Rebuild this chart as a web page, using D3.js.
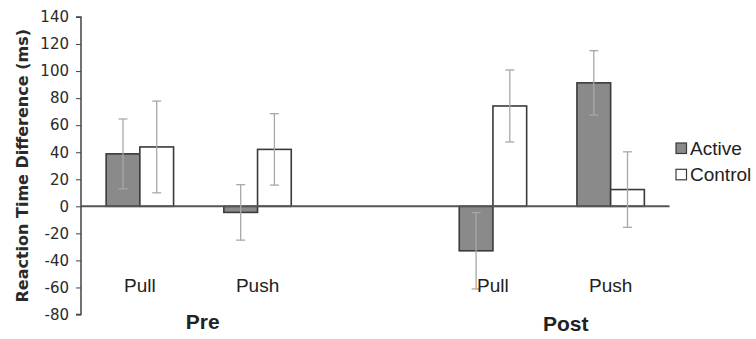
<!DOCTYPE html>
<html>
<head>
<meta charset="utf-8">
<script src="https://cdn.jsdelivr.net/npm/d3@7"></script>
<style>
  html, body { margin: 0; padding: 0; background: #fff; }
  svg { display: block; }
</style>
</head>
<body>
<svg id="chart" width="756" height="339"></svg>
<script>
// ---- data ----
const phases = ["Pre", "Pre", "Post", "Post"];
const conditions = ["Pull", "Push", "Pull", "Push"];
const seriesNames = ["Active", "Control"];
const activeValues = [38.8, -4.5, -32.9, 91.3];
const activeErrors = [25.8, 20.5, 28.2, 23.8];
const controlValues = [43.9, 42.1, 74.2, 12.4];
const controlErrors = [33.9, 26.4, 26.6, 27.9];
const yTicks = [140, 120, 100, 80, 60, 40, 20, 0, -20, -40, -60, -80];
const yTitle = "Reaction Time Difference (ms)";
const groupLabels = ["Pre", "Post"];

// ---- layout ----
const svg = d3.select("#chart");
const plotLeft = 81, plotRight = 669.5, plotTop = 17, plotBottom = 314.5;

const slotKeys = [phases[0] + "|" + conditions[0], phases[1] + "|" + conditions[1], "spacer",
                  phases[2] + "|" + conditions[2], phases[3] + "|" + conditions[3]];
const x = d3.scaleBand().domain(slotKeys).range([plotLeft, plotRight]).padding(0);
const x1 = d3.scaleBand().domain(seriesNames).range([0, x.bandwidth()]).paddingInner(0).paddingOuter(0.746);
const y = d3.scaleLinear().domain([-80, 140]).range([plotBottom, plotTop]);

const fills = { Active: "#8a8a8a", Control: "#ffffff" };

const rows = [];
for (let i = 0; i < conditions.length; i++) {
  const key = phases[i] + "|" + conditions[i];
  rows.push({ key, series: "Active", v: activeValues[i], e: activeErrors[i] });
  rows.push({ key, series: "Control", v: controlValues[i], e: controlErrors[i] });
}

// bars
svg.append("g").selectAll("rect").data(rows).join("rect")
  .attr("x", d => x(d.key) + x1(d.series))
  .attr("width", x1.bandwidth())
  .attr("y", d => y(Math.max(0, d.v)))
  .attr("height", d => Math.abs(y(d.v) - y(0)))
  .attr("fill", d => fills[d.series])
  .attr("stroke", "#3a3a3a")
  .attr("stroke-width", 1.6);

// zero line
svg.append("line")
  .attr("x1", plotLeft).attr("x2", plotRight)
  .attr("y1", y(0)).attr("y2", y(0))
  .attr("stroke", "#555").attr("stroke-width", 2);

// error bars
const eg = svg.append("g").attr("stroke", "#a8a8a8").attr("stroke-width", 1.3);
rows.forEach(d => {
  const cx = x(d.key) + x1(d.series) + x1.bandwidth() / 2;
  eg.append("line").attr("x1", cx).attr("x2", cx).attr("y1", y(d.v + d.e)).attr("y2", y(d.v - d.e));
  [d.v + d.e, d.v - d.e].forEach(t => {
    eg.append("line").attr("x1", cx - 4.5).attr("x2", cx + 4.5).attr("y1", y(t)).attr("y2", y(t));
  });
});

// y axis
const yAxis = d3.axisLeft(y).tickValues(yTicks).tickSize(5).tickPadding(7).tickFormat(d => String(d));
const ag = svg.append("g").attr("transform", `translate(${plotLeft},0)`).call(yAxis);
ag.select(".domain").attr("stroke", "#444").attr("stroke-width", 1.5).attr("d", `M-5,${y(140)}H0V${y(-80)}H-5`);
ag.selectAll(".tick line").attr("stroke", "#444").attr("stroke-width", 1);
ag.selectAll(".tick text").attr("fill", "#2a2a2a").style("font-family", "'DejaVu Sans', sans-serif").style("font-size", "15px");

// y title
svg.append("text")
  .attr("transform", `translate(28,${(y(140) + y(-80)) / 2}) rotate(-90)`)
  .attr("text-anchor", "middle")
  .style("font-family", "'DejaVu Sans', sans-serif")
  .style("font-weight", "bold").style("font-size", "16px").attr("fill", "#2a2a2a")
  .text(yTitle);

// category labels
svg.append("g").selectAll("text").data(conditions).join("text")
  .attr("x", (d, i) => x(phases[i] + "|" + d) + x.bandwidth() / 2)
  .attr("y", 291.5)
  .attr("text-anchor", "middle")
  .style("font-family", "'Liberation Sans', Arial, sans-serif")
  .style("font-size", "19px").attr("fill", "#222")
  .text(d => d);

// group labels
const groupOffsets = [4, 14];
svg.append("g").selectAll("text").data(groupLabels).join("text")
  .attr("x", (g, gi) => {
    const keys = conditions.map((c, i) => phases[i] === g ? x(phases[i] + "|" + c) + x.bandwidth() / 2 : null).filter(v => v !== null);
    return d3.mean(keys) + groupOffsets[gi];
  })
  .attr("y", (g, gi) => gi === 0 ? 328.5 : 331)
  .attr("text-anchor", "middle")
  .style("font-family", "'Liberation Sans', Arial, sans-serif")
  .style("font-weight", "bold").style("font-size", "21px").attr("fill", "#222")
  .text(d => d);

// legend
const lg = svg.append("g").attr("transform", "translate(676,143)");
seriesNames.forEach((s, i) => {
  const row = lg.append("g").attr("transform", `translate(0,${i * 26.3})`);
  row.append("rect").attr("width", 10.5).attr("height", 10.5)
    .attr("fill", fills[s]).attr("stroke", "#3a3a3a").attr("stroke-width", 1.2);
  row.append("text").attr("x", 14).attr("y", 12)
    .style("font-family", "'Liberation Sans', Arial, sans-serif")
    .style("font-size", "19px").attr("fill", "#222")
    .text(s);
});
</script>
</body>
</html>
